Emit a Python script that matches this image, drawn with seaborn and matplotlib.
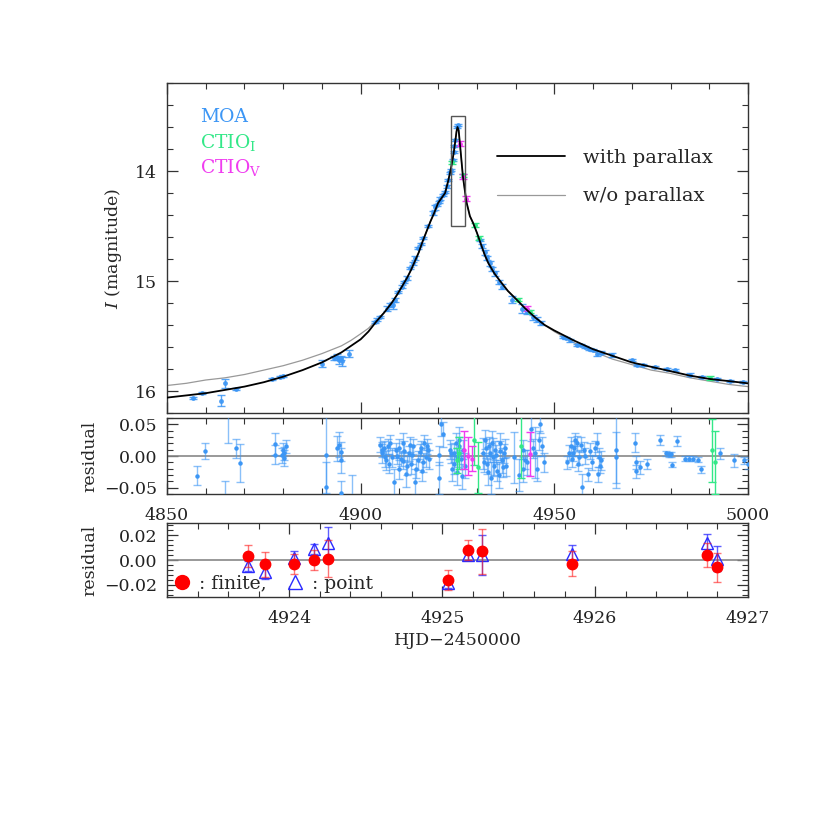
import numpy as np
import pandas as pd
import seaborn as sns
import matplotlib
matplotlib.use("Agg")
import matplotlib.pyplot as plt
from matplotlib.patches import Rectangle
from matplotlib.ticker import AutoMinorLocator, MultipleLocator, FuncFormatter
from matplotlib.lines import Line2D

# ---------------- data ----------------
# model light curve with parallax (HJD-2450000, I mag)
par_day = [4850, 4855, 4860, 4865, 4870, 4875, 4880, 4885, 4890, 4895, 4897.5, 4900, 4902, 4904,
           4906, 4908, 4909.5, 4911, 4912, 4913, 4914, 4915, 4916, 4917, 4918, 4919, 4920, 4921,
           4921.8, 4922.6, 4923.3, 4924.0, 4924.5, 4924.75, 4925.0, 4925.3, 4925.7,
           4926.4, 4927.3, 4928.2, 4929.0, 4930.0, 4931, 4932, 4933, 4934.5, 4936,
           4938, 4940, 4942.5, 4945, 4947.5, 4950, 4955, 4960, 4965, 4970, 4975, 4980,
           4985, 4990, 4995, 5000]
par_mag = [16.06, 16.04, 16.02, 15.99, 15.96, 15.92, 15.87, 15.81, 15.74, 15.65, 15.59, 15.53,
           15.46, 15.37, 15.29, 15.20, 15.12, 15.03, 14.97, 14.90, 14.82, 14.74, 14.64, 14.55,
           14.46, 14.38, 14.29, 14.24, 14.20, 14.09, 13.98, 13.84, 13.71, 13.64, 13.60, 13.63,
           13.78, 14.05, 14.28, 14.41, 14.47, 14.56, 14.66, 14.76, 14.84, 14.93, 15.00,
           15.09, 15.16, 15.25, 15.33, 15.40, 15.45, 15.54, 15.62, 15.68, 15.74, 15.78, 15.82,
           15.86, 15.89, 15.91, 15.93]

# model without parallax
nopar_day = [4850, 4855, 4860, 4865, 4870, 4875, 4880, 4885, 4890, 4895, 4897.5, 4900, 4902, 4904,
             4906, 4908, 4909.5, 4911, 4912, 4913, 4914, 4915, 4916, 4917, 4918, 4919, 4920, 4921,
             4921.8, 4922.6, 4923.3, 4924.0, 4924.5, 4924.75, 4925.0, 4925.3, 4925.7,
             4926.4, 4927.3, 4928.2, 4929.0, 4930.0, 4931, 4932, 4933, 4934.5, 4936,
             4938, 4940, 4942.5, 4945, 4947.5, 4950, 4955, 4960, 4965, 4970, 4975, 4980,
             4985, 4990, 4995, 5000]
nopar_mag = [15.95, 15.93, 15.90, 15.88, 15.85, 15.81, 15.77, 15.72, 15.66, 15.59, 15.54, 15.48,
             15.43, 15.36, 15.29, 15.20, 15.12, 15.03, 14.97, 14.90, 14.82, 14.74, 14.64, 14.55,
             14.46, 14.38, 14.29, 14.24, 14.20, 14.09, 13.98, 13.84, 13.71, 13.64, 13.60, 13.63,
             13.78, 14.05, 14.28, 14.41, 14.47, 14.56, 14.66, 14.76, 14.84, 14.93, 15.00,
             15.09, 15.16, 15.25, 15.33, 15.40, 15.46, 15.56, 15.64, 15.71, 15.76, 15.81, 15.84,
             15.88, 15.91, 15.94, 15.96]

# MOA photometry
moa_day = [4856.8, 4859.0, 4864.0, 4865.0, 4867.8, 4877.1, 4879.2, 4880.0, 4890.0, 4893.0,
           4893.8, 4894.3, 4894.8, 4895.3, 4897.0, 4903.7, 4905.0, 4906.8, 4908.4, 4908.9,
           4909.7, 4910.6, 4912.0, 4912.8, 4914.0, 4914.9, 4916.1, 4918.7, 4919.2, 4919.7,
           4920.6, 4921.8, 4922.6, 4923.3, 4923.8, 4924.0, 4924.4, 4924.9, 4925.1, 4930.8,
           4932.1, 4932.7, 4933.3, 4934.7, 4935.6, 4939.1, 4941.6, 4944.6, 4945.5, 4952.3,
           4954.1, 4955.9, 4958.0, 4960.1, 4961.0, 4964.9, 4970.0, 4971.4, 4976.0, 4981.1,
           4985.0, 4992.0, 4995.4, 4998.8,
           4904.3, 4907.5, 4911.3, 4913.4, 4915.5, 4917.5, 4920.2, 4921.2, 4922.2, 4923.0,
           4924.2, 4931.4, 4933.9, 4936.5, 4943.0, 4946.5, 4953.0, 4956.8, 4959.0, 4962.0,
           4973.0, 4979.0, 4988.0]
moa_mag = [16.06, 16.02, 16.09, 15.93, 15.98, 15.89, 15.87, 15.86, 15.75, 15.70,
           15.69, 15.72, 15.70, 15.73, 15.66, 15.37, 15.33, 15.25, 15.22, 15.17,
           15.10, 15.05, 14.97, 14.88, 14.79, 14.70, 14.61, 14.38, 14.33, 14.31,
           14.25, 14.19, 14.08, 13.99, 13.90, 13.83, 13.72, 13.60, 13.58, 14.63,
           14.74, 14.79, 14.84, 14.93, 15.01, 15.17, 15.25, 15.33, 15.35, 15.51,
           15.54, 15.58, 15.60, 15.63, 15.66, 15.67, 15.72, 15.76, 15.78, 15.81,
           15.85, 15.89, 15.91, 15.92,
           15.35, 15.22, 15.01, 14.84, 14.66, 14.50, 14.28, 14.22, 14.14, 14.02,
           13.77, 14.68, 14.89, 15.05, 15.28, 15.38, 15.52, 15.58, 15.62, 15.65,
           15.76, 15.80, 15.87]
moa_err = [0.01, 0.01, 0.05, 0.04, 0.01, 0.01, 0.01, 0.01, 0.03, 0.02,
           0.03, 0.03, 0.02, 0.04, 0.03, 0.01, 0.01, 0.02, 0.03, 0.02,
           0.01, 0.01, 0.02, 0.01, 0.02, 0.01, 0.01, 0.02, 0.02, 0.01,
           0.01, 0.01, 0.01, 0.01, 0.01, 0.01, 0.01, 0.01, 0.01, 0.01,
           0.02, 0.02, 0.02, 0.02, 0.02, 0.03, 0.04, 0.02, 0.02, 0.01,
           0.01, 0.01, 0.01, 0.01, 0.02, 0.02, 0.01, 0.01, 0.01, 0.01,
           0.01, 0.01, 0.01, 0.01,
           0.01, 0.02, 0.01, 0.01, 0.01, 0.01, 0.01, 0.01, 0.01, 0.01,
           0.01, 0.02, 0.02, 0.02, 0.02, 0.02, 0.01, 0.01, 0.01, 0.01,
           0.01, 0.01, 0.01]

# CTIO I and V
ctioi_day = [4923.6, 4926.4, 4929.5, 4930.6, 4940.6, 4943.7, 4990.2]
ctioi_mag = [13.92, 14.04, 14.49, 14.61, 15.17, 15.28, 15.88]
ctioi_err = [0.015, 0.015, 0.015, 0.015, 0.015, 0.015, 0.02]
ctiov_day = [4925.6, 4926.4, 4927.3, 4942.9]
ctiov_mag = [13.75, 14.05, 14.25, 15.25]
ctiov_err = [0.02, 0.02, 0.02, 0.02]

# residuals
moa_rday = [4857.8, 4859.8, 4865.8, 4865.0, 4867.9, 4868.8, 4877.9, 4878.0, 4879.6, 4879.9,
            4880.3, 4880.1, 4880.7, 4891.0, 4891.0, 4894.0, 4894.4, 4894.9, 4895.0, 4894.9,
            4897.8, 4904.9, 4905.4, 4906.0, 4906.5, 4907.6, 4908.2, 4908.7, 4909.2, 4909.8,
            4910.3, 4910.9, 4911.7, 4912.5, 4913.0, 4913.6, 4914.1, 4914.7, 4915.2, 4915.8,
            4916.3, 4916.8, 4917.4, 4920.1, 4920.3, 4920.7, 4921.2, 4923.4, 4924.0, 4924.5,
            4925.0, 4925.5, 4926.1, 4931.5, 4932.1, 4932.6, 4933.2, 4933.7, 4934.2, 4934.8,
            4935.3, 4935.9, 4936.4, 4936.9, 4937.5, 4939.7, 4941.8, 4942.4, 4944.0, 4945.0,
            4946.2, 4946.7, 4947.3, 4953.3, 4954.3, 4954.9, 4955.4, 4955.9, 4956.4, 4957.1,
            4957.6, 4958.7, 4959.3, 4960.9, 4961.2, 4961.5, 4962.0, 4965.8, 4966.0, 4970.9,
            4971.0, 4971.2, 4972.0, 4973.9, 4977.2, 4978.8, 4979.5, 4980.0, 4980.4, 4981.7,
            4983.7, 4984.8, 4985.9, 4987.2, 4987.8, 4992.9, 4996.4, 4998.9, 5000.0,
            4905.5, 4906.2, 4907.0, 4907.3, 4909.5, 4910.0, 4911.0, 4911.3, 4912.0, 4912.8,
            4913.3, 4914.4, 4915.5, 4916.0, 4917.0, 4917.7, 4923.0, 4923.7, 4924.2, 4924.8,
            4925.3, 4925.8, 4926.4, 4927.0, 4931.8, 4932.3, 4932.9, 4933.5, 4934.0, 4934.5,
            4935.0, 4935.6, 4936.1, 4936.7, 4937.2, 4941.0, 4942.0, 4943.0, 4944.5, 4945.5,
            4946.0, 4953.8, 4954.6, 4955.2, 4956.0, 4956.8, 4958.0, 4959.8, 4960.4, 4961.8]
moa_res = [-0.031, 0.008, 0.070, -0.075, 0.012, -0.011, 0.019, 0.002, 0.001, 0.010,
           0.004, -0.003, 0.015, 0.001, -0.049, 0.012, 0.018, -0.007, 0.007, -0.059,
           -0.075, 0.018, 0.004, 0.012, -0.007, 0.021, -0.002, -0.041, 0.009, -0.021,
           -0.004, 0.021, -0.029, 0.004, -0.013, 0.015, -0.041, -0.007, 0.007, -0.024,
           0.021, -0.002, 0.009, 0.001, -0.035, 0.051, 0.034, 0.004, -0.013, 0.021,
           -0.002, 0.015, -0.032, 0.004, 0.026, -0.013, 0.015, -0.035, -0.002, 0.009,
           -0.024, 0.021, -0.007, 0.004, -0.016, -0.002, -0.021, -0.006, 0.043, 0.005,
           0.051, 0.015, -0.010, -0.010, 0.015, 0.004, 0.026, 0.020, -0.002, -0.049,
           0.010, -0.029, 0.008, 0.021, -0.029, -0.002, -0.007, 0.010, -0.002, 0.021,
           -0.024, -0.010, -0.018, -0.013, 0.025, 0.004, 0.003, 0.003, -0.014, 0.023,
           -0.004, -0.004, -0.004, -0.006, -0.021, 0.004, -0.007, -0.007, -0.013,
           0.010, -0.002, 0.015, -0.012, 0.000, 0.012, -0.008, 0.008, -0.015, 0.018,
           0.002, -0.020, 0.012, -0.010, 0.015, -0.005, 0.010, -0.020, 0.005, -0.025,
           0.025, -0.005, 0.010, -0.015, -0.010, 0.012, -0.025, 0.005, 0.020, -0.015,
           0.002, -0.030, 0.008, -0.018, 0.012, -0.030, 0.010, -0.010, 0.012, -0.020,
           0.025, 0.005, -0.005, 0.012, -0.012, 0.018, 0.000, -0.010, 0.012, -0.015]
moa_rerr = [0.015, 0.012, 0.05, 0.035, 0.015, 0.03, 0.018, 0.015, 0.012, 0.010,
            0.010, 0.012, 0.010, 0.06, 0.04, 0.020, 0.020, 0.020, 0.015, 0.020,
            0.045, 0.012, 0.015, 0.012, 0.015, 0.012, 0.015, 0.020, 0.012, 0.015,
            0.012, 0.015, 0.020, 0.012, 0.015, 0.012, 0.020, 0.015, 0.012, 0.015,
            0.012, 0.015, 0.012, 0.015, 0.025, 0.020, 0.020, 0.015, 0.015, 0.015,
            0.015, 0.015, 0.020, 0.025, 0.015, 0.015, 0.015, 0.025, 0.030, 0.015,
            0.015, 0.015, 0.020, 0.015, 0.015, 0.040, 0.020, 0.015, 0.020, 0.040,
            0.015, 0.015, 0.015, 0.010, 0.015, 0.012, 0.010, 0.012, 0.012, 0.020,
            0.012, 0.010, 0.012, 0.015, 0.012, 0.015, 0.015, 0.060, 0.040, 0.015,
            0.010, 0.010, 0.010, 0.008, 0.008, 0.004, 0.004, 0.004, 0.004, 0.008,
            0.004, 0.004, 0.004, 0.004, 0.006, 0.008, 0.010, 0.006, 0.008,
            0.012, 0.015, 0.012, 0.015, 0.012, 0.015, 0.012, 0.015, 0.015, 0.012,
            0.015, 0.015, 0.012, 0.015, 0.012, 0.015, 0.015, 0.020, 0.015, 0.020,
            0.020, 0.015, 0.015, 0.020, 0.015, 0.015, 0.020, 0.015, 0.020, 0.015,
            0.015, 0.020, 0.015, 0.015, 0.015, 0.025, 0.015, 0.020, 0.015, 0.020,
            0.015, 0.012, 0.012, 0.012, 0.012, 0.012, 0.012, 0.012, 0.012, 0.012]
ctioi_rday = [4924.8, 4925.4, 4929.3, 4930.4, 4941.3, 4990.8, 4991.5]
ctioi_res = [-0.007, 0.005, 0.026, -0.018, 0.015, 0.009, -0.010]
ctioi_rerr = [0.020, 0.025, 0.040, 0.040, 0.050, 0.050, 0.050]
ctiov_rday = [4926.6, 4927.7, 4928.8, 4943.7]
ctiov_res = [0.009, 0.000, -0.004, 0.003]
ctiov_rerr = [0.030, 0.030, 0.020, 0.035]

# zoomed residuals around the peak
zoom_day = [4923.73, 4923.84, 4924.03, 4924.16, 4924.25, 4925.04, 4925.17, 4925.26,
            4925.85, 4926.73, 4926.80]
finite_res = [0.0035, -0.0035, -0.003, 0.000, 0.001, -0.016, 0.008, 0.007, -0.003, 0.004, -0.006]
finite_err = [0.009, 0.010, 0.008, 0.008, 0.015, 0.008, 0.008, 0.018, 0.010, 0.010, 0.012]
point_res = [-0.005, -0.010, 0.002, 0.009, 0.014, -0.019, 0.004, 0.004, 0.005, 0.014, 0.001]
point_err = [0.004, 0.005, 0.005, 0.004, 0.013, 0.004, 0.004, 0.016, 0.007, 0.007, 0.010]

# ---------------- style ----------------
sns.set_theme(style="ticks")
plt.rcParams["font.family"] = ["DejaVu Serif"]
plt.rcParams["mathtext.fontset"] = "dejavuserif"
plt.rcParams["axes.edgecolor"] = "#333333"
plt.rcParams["axes.linewidth"] = 1.0

MOA_C = "#3c96f5"
CI_C = "#33e888"
CV_C = "#f03cf0"

fig = plt.figure(figsize=(8.3, 8.3), dpi=100)
ax1 = fig.add_axes([0.2012, 0.5024, 0.700, 0.3976])
ax2 = fig.add_axes([0.2012, 0.4048, 0.700, 0.0916])
ax3 = fig.add_axes([0.2012, 0.2807, 0.700, 0.0892])


def style_axis(ax):
    ax.tick_params(which="both", direction="in", top=True, right=True,
                   labelsize=12.5, colors="#333333", labelcolor="#222222", pad=7)
    ax.tick_params(which="major", length=8, width=0.9)
    ax.tick_params(which="minor", length=4, width=0.8)
    ax.xaxis.set_minor_locator(AutoMinorLocator(5))
    ax.yaxis.set_minor_locator(AutoMinorLocator(5))


def fmt2(v, p):
    return f"{v:.2f}".replace("-", "\u2212")


# ---------------- top panel ----------------
curve = pd.DataFrame({"day": par_day, "mag": par_mag})
curve0 = pd.DataFrame({"day": nopar_day, "mag": nopar_mag})
sns.lineplot(data=curve0, x="day", y="mag", ax=ax1, color="#999999", lw=0.9,
             estimator=None, label="w/o parallax", zorder=2)
sns.lineplot(data=curve, x="day", y="mag", ax=ax1, color="black", lw=1.3,
             estimator=None, label="with parallax", zorder=4)

ax1.errorbar(moa_day, moa_mag, yerr=moa_err, fmt="o", ms=2.5, color=MOA_C,
             ecolor=MOA_C, elinewidth=1, capsize=3, alpha=0.85, zorder=3)
ax1.errorbar(ctioi_day, ctioi_mag, yerr=ctioi_err, fmt="o", ms=2.5, color=CI_C,
             ecolor=CI_C, elinewidth=1, capsize=3, zorder=3)
ax1.errorbar(ctiov_day, ctiov_mag, yerr=ctiov_err, fmt="o", ms=2.5, color=CV_C,
             ecolor=CV_C, elinewidth=1, capsize=3, zorder=3)

ax1.add_patch(Rectangle((4923.2, 13.5), 3.8, 1.0, fill=False, ec="#555555", lw=1.0, zorder=5))

ax1.set_xlim(4850, 5000)
ax1.set_ylim(16.2, 13.2)
ax1.xaxis.set_major_locator(MultipleLocator(50))
ax1.yaxis.set_major_locator(MultipleLocator(1))
ax1.set_xticklabels([])
ax1.set_xlabel("")
ax1.set_ylabel(r"$I$ (magnitude)", fontsize=12.5, labelpad=8)
style_axis(ax1)

ax1.text(0.057, 0.897, "MOA", color=MOA_C, transform=ax1.transAxes, fontsize=13.5, va="center")
ax1.text(0.057, 0.821, r"CTIO$_{\rm I}$", color=CI_C, transform=ax1.transAxes, fontsize=13.5, va="center")
ax1.text(0.057, 0.745, r"CTIO$_{\rm V}$", color=CV_C, transform=ax1.transAxes, fontsize=13.5, va="center")

h, l = ax1.get_legend_handles_labels()
order = [l.index("with parallax"), l.index("w/o parallax")]
ax1.legend([h[i] for i in order], [l[i] for i in order], loc="upper left",
           bbox_to_anchor=(0.568, 0.80), frameon=False, fontsize=14,
           handlelength=3.5, handletextpad=0.9, labelspacing=1.05,
           borderpad=0, borderaxespad=0)

# ---------------- residual panel ----------------
ax2.axhline(0, color="#888888", lw=1.2, zorder=1)
ax2.errorbar(moa_rday, moa_res, yerr=moa_rerr, fmt="o", ms=2.2, color=MOA_C,
             ecolor=(0.24, 0.59, 0.96, 0.6), elinewidth=1, capsize=3, zorder=3)
ax2.errorbar(ctioi_rday, ctioi_res, yerr=ctioi_rerr, fmt="o", ms=2.2, color=CI_C,
             ecolor=CI_C, elinewidth=1, capsize=3, zorder=4)
ax2.errorbar(ctiov_rday, ctiov_res, yerr=ctiov_rerr, fmt="o", ms=2.2, color=CV_C,
             ecolor=CV_C, elinewidth=1, capsize=3, zorder=4)
ax2.set_xlim(4850, 5000)
ax2.set_ylim(-0.06, 0.06)
ax2.xaxis.set_major_locator(MultipleLocator(50))
ax2.yaxis.set_major_locator(MultipleLocator(0.05))
ax2.yaxis.set_major_formatter(FuncFormatter(fmt2))
ax2.set_ylabel("residual", fontsize=12.5, labelpad=4)
style_axis(ax2)
ax2.tick_params(axis="x", pad=9)

# ---------------- zoomed residual panel ----------------
ax3.axhline(0, color="#888888", lw=1.2, zorder=1)
pt = ax3.errorbar(zoom_day, point_res, yerr=point_err, fmt="^", ms=9, mfc="none",
                  mec="#2a2aff", mew=1.0, ecolor=(0.16, 0.16, 1.0, 0.75), elinewidth=1,
                  capsize=3, zorder=3)
fin = ax3.errorbar(zoom_day, finite_res, yerr=finite_err, fmt="o", ms=7.5, color="red",
                   ecolor=(1.0, 0.1, 0.1, 0.6), elinewidth=1, capsize=3, zorder=4)
ax3.set_xlim(4923.2, 4927)
ax3.set_ylim(-0.03, 0.03)
ax3.xaxis.set_major_locator(MultipleLocator(1))
ax3.yaxis.set_major_locator(MultipleLocator(0.02))
ax3.yaxis.set_major_formatter(FuncFormatter(fmt2))
ax3.set_ylabel("residual", fontsize=12.5, labelpad=4)
ax3.set_xlabel("HJD\u22122450000", fontsize=12.5, labelpad=4)
style_axis(ax3)
ax3.tick_params(axis="x", pad=9)

h_fin = Line2D([], [], ls="none", marker="o", ms=10, color="red")
h_pt = Line2D([], [], ls="none", marker="^", ms=10, mfc="none", mec="#2a2aff")
ax3.legend([h_fin, h_pt], [": finite,", ": point"], loc="lower left", ncol=2,
           bbox_to_anchor=(0.01, 0.06), frameon=False, fontsize=13.5,
           handlelength=1.0, handletextpad=0.4, columnspacing=1.0,
           borderpad=0, borderaxespad=0)

fig.savefig("out.png", dpi=100)
